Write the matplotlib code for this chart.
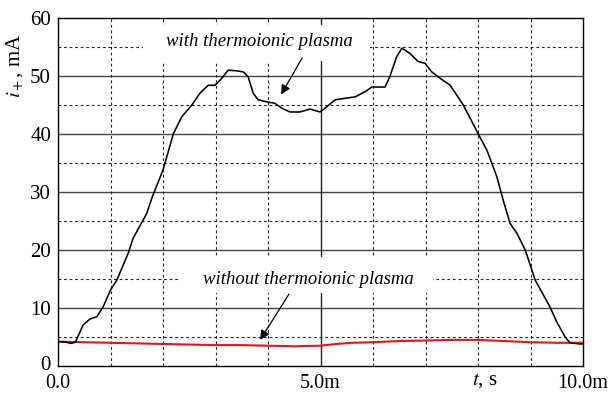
import matplotlib
matplotlib.use("Agg")
import matplotlib.pyplot as plt
import matplotlib.transforms as mtransforms
from matplotlib.patches import Rectangle

plt.rcParams['font.family'] = ['Liberation Serif', 'DejaVu Serif']
plt.rcParams['mathtext.fontset'] = 'stix'

# with thermoionic plasma (t in ms, i in mA)
t_with = [0.0, 0.15, 0.25, 0.33, 0.48, 0.61, 0.74, 0.86, 1.0, 1.12, 1.34, 1.43,
          1.69, 1.79, 2.0, 2.2, 2.36, 2.55, 2.7, 2.86, 2.99, 3.12, 3.24, 3.4,
          3.53, 3.62, 3.72, 3.81, 4.0, 4.13, 4.27, 4.42, 4.61, 4.8, 4.99, 5.12,
          5.28, 5.5, 5.66, 5.85, 5.98, 6.23, 6.32, 6.45, 6.55, 6.7, 6.86, 6.99,
          7.12, 7.28, 7.47, 7.72, 8.0, 8.17, 8.36, 8.48, 8.61, 8.74, 8.9, 9.09,
          9.37, 9.5, 9.66, 9.75, 9.94, 10.0]
i_with = [4.2, 4.1, 3.9, 4.1, 7.1, 8.1, 8.5, 10.2, 13.1, 14.8, 19.5, 22.0,
          26.3, 29.0, 33.8, 40.1, 43.0, 45.0, 47.0, 48.4, 48.4, 49.6, 51.0, 50.9,
          50.7, 49.9, 47.0, 45.9, 45.5, 45.3, 44.4, 43.8, 43.8, 44.3, 43.8, 44.7,
          45.9, 46.2, 46.4, 47.3, 48.1, 48.1, 49.9, 53.3, 54.8, 53.9, 52.5, 52.2,
          50.7, 49.6, 48.4, 45.0, 40.1, 37.2, 32.6, 28.6, 24.6, 22.9, 20.0, 14.8,
          10.2, 7.6, 5.0, 4.0, 3.8, 3.8]

# without thermoionic plasma
t_without = [0.0, 0.5, 1.0, 1.5, 2.0, 2.5, 3.0, 3.5, 4.0, 4.5, 5.0, 5.3, 5.6,
             6.0, 6.5, 7.0, 7.5, 8.0, 8.5, 9.0, 9.5, 10.0]
i_without = [4.2, 4.1, 4.0, 3.9, 3.8, 3.7, 3.6, 3.6, 3.5, 3.4, 3.5, 3.8, 4.0,
             4.1, 4.3, 4.4, 4.5, 4.5, 4.3, 4.1, 4.0, 4.0]

fig = plt.figure(figsize=(6.12, 3.94), dpi=100)
ax = fig.add_axes([58 / 612, 28 / 394, 525 / 612, 348 / 394])

# grid
for y in range(10, 60, 10):
    ax.axhline(y, color='#444444', lw=1.0, zorder=1)
for y in range(5, 60, 10):
    ax.axhline(y, color='#222222', lw=0.8, ls=(0, (2.5, 2.5)), zorder=1)
for x in [1, 2, 3, 4, 6, 7, 8, 9]:
    ax.axvline(x, color='#222222', lw=0.8, ls=(0, (2.5, 2.5)), zorder=1)
ax.axvline(5, color='#222222', lw=1.0, zorder=1)

# white patches behind the labels
ax.add_patch(Rectangle((1.62, 52.6), 4.33, 6.2, facecolor='white',
                       edgecolor='none', zorder=2))
ax.add_patch(Rectangle((2.32, 12.6), 4.82, 6.2, facecolor='white',
                       edgecolor='none', zorder=2))

ax.plot(t_without, i_without, color='#ee1111', lw=1.5, zorder=4)
ax.plot(t_with, i_with, color='black', lw=1.15, zorder=4)

ax.set_xlim(0, 10)
ax.set_ylim(0, 60)
ax.set_xticks([0, 5, 10])
ax.set_xticklabels(['0.0', '5.0m', '10.0m'])
ax.set_yticks(range(0, 61, 10))
ax.tick_params(length=0, labelsize=15)
ax.tick_params(axis='y', pad=5)
ax.tick_params(axis='x', pad=6, labelsize=14.5)
for s in ax.spines.values():
    s.set_linewidth(1.0)
    s.set_zorder(5)

# lift the "0" label a little so it clears "0.0"
lbl0 = ax.get_yticklabels()[0]
lbl0.set_transform(lbl0.get_transform() +
                   mtransforms.ScaledTranslation(0, 3 / 100, fig.dpi_scale_trans))

ax.text(3.84, 56.0, 'with thermoionic plasma', style='italic', fontsize=13.5,
        ha='center', va='center', zorder=3)
ax.text(4.77, 15.0, 'without thermoionic plasma', style='italic', fontsize=13.5,
        ha='center', va='center', zorder=3)

ax.annotate('', xy=(4.25, 46.8), xytext=(4.65, 53.1),
            arrowprops=dict(arrowstyle='-|>', color='black', lw=0.9,
                            mutation_scale=14, shrinkA=0, shrinkB=0), zorder=6)
ax.annotate('', xy=(3.85, 4.5), xytext=(4.4, 12.4),
            arrowprops=dict(arrowstyle='-|>', color='black', lw=0.9,
                            mutation_scale=14, shrinkA=0, shrinkB=0), zorder=6)

fig.text(485 / 612, 1 - 381 / 394, '$t$, s', fontsize=15, ha='center', va='center')
fig.text(15 / 612, 1 - 66 / 394, '$i_+$, mA', fontsize=15, rotation=90,
         ha='center', va='center')

fig.savefig('out.png', dpi=100)
